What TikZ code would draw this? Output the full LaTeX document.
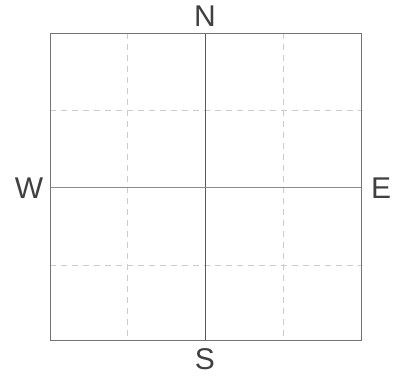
\documentclass[tikz,border=0pt]{standalone}
\usepackage{fontspec}
\setmainfont{Liberation Sans}
\begin{document}
\begin{tikzpicture}[x=1pt,y=-1pt,
  frame/.style={draw=black!55,line width=0.9pt},
  axisline/.style={draw=black!65,line width=0.8pt},
  guide/.style={draw=black!20,line width=0.7pt,dash pattern=on 6pt off 5pt},
  dirlabel/.style={text=black!75,font=\fontsize{30}{32}\selectfont,inner sep=0pt}]
\useasboundingbox (0,0) rectangle (396,378);
\coordinate (tl) at (50,33);
\coordinate (br) at (361,340);
% guides
\draw[guide] (127,33) -- (127,340);
\draw[guide] (283,33) -- (283,340);
\draw[guide] (50,110) -- (361,110);
\draw[guide] (50,265) -- (361,265);
% axes
\coordinate (nt) at (205,33);
\coordinate (sb) at (205,340);
\coordinate (wl) at (50,187);
\coordinate (er) at (361,187);
\draw[axisline] (nt) -- (sb);
\draw[axisline,draw=black!45] (wl) -- (er);
\draw[frame] (tl) rectangle (br);
% labels
\node[dirlabel] (N) at (205,16) {N};
\node[dirlabel] (S) at (205,359) {S};
\node[dirlabel] (W) at (29,188) {W};
\node[dirlabel] (E) at (381,188) {E};
\end{tikzpicture}
\end{document}
